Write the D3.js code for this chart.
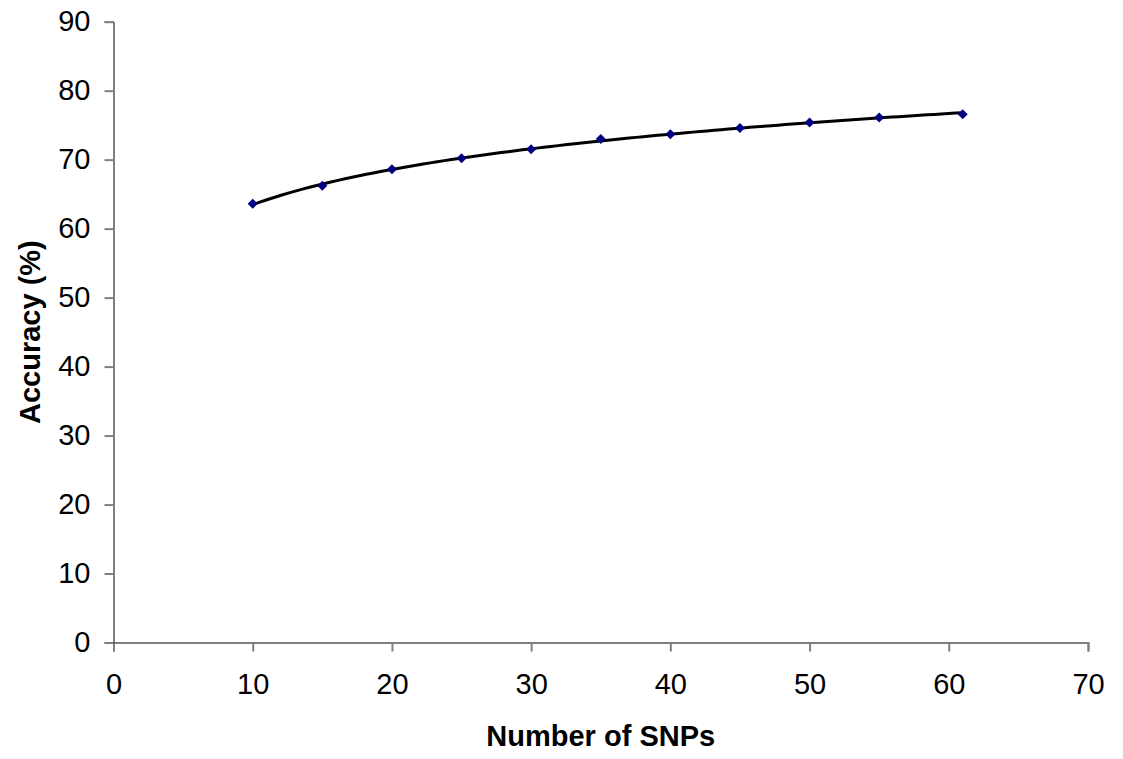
<!DOCTYPE html>
<html>
<head>
<meta charset="utf-8">
<script src="https://cdn.jsdelivr.net/npm/d3@7"></script>
<style>
  html, body { margin: 0; padding: 0; background: #fff; }
  svg { display: block; font-family: "Liberation Sans", Arial, sans-serif; }
</style>
</head>
<body>
<svg id="chart" width="1123" height="759"></svg>
<script>
// Data
const snpCounts = [10, 15, 20, 25, 30, 35, 40, 45, 50, 55, 61];
const accuracy  = [63.6, 66.2, 68.6, 70.2, 71.5, 73.0, 73.7, 74.6, 75.4, 76.1, 76.6];
const xTicks = [0, 10, 20, 30, 40, 50, 60, 70];
const yTicks = [0, 10, 20, 30, 40, 50, 60, 70, 80, 90];
const xTitle = "Number of SNPs";
const yTitle = "Accuracy (%)";

(function () {
const svg = d3.select("#chart");
const mLeft = 113.5, mRight = 1088, mTop = 21.7, mBottom = 642.5;

const x = d3.scaleLinear().domain([0, 70]).range([mLeft, mRight]);
const y = d3.scaleLinear().domain([0, 90]).range([mBottom, mTop]);

// Logarithmic trend line (least squares fit of y = a ln x + b)
const lx = snpCounts.map(Math.log);
const n = lx.length;
const mx = d3.mean(lx), my = d3.mean(accuracy);
let sxy = 0, sxx = 0;
for (let i = 0; i < n; i++) { sxy += (lx[i]-mx)*(accuracy[i]-my); sxx += (lx[i]-mx)**2; }
const a = sxy / sxx, b = my - a * mx;
const trendX = d3.range(0, 101).map(i => snpCounts[0] + (snpCounts[n-1]-snpCounts[0]) * i / 100);

const fontSize = 29;

// Y axis
const yAxis = svg.append("g").attr("transform", `translate(${mLeft},0)`)
  .call(d3.axisLeft(y).tickValues(yTicks).tickSize(9).tickPadding(14).tickFormat(d3.format("d")));
yAxis.select(".domain").attr("stroke", "#000").attr("stroke-width", 1);
yAxis.selectAll(".tick line").attr("stroke", "#808080").attr("stroke-width", 2);
yAxis.selectAll(".tick text").attr("font-size", fontSize).attr("fill", "#000")
  .attr("font-family", "Liberation Sans, Arial, sans-serif");

// X axis
const xAxis = svg.append("g").attr("transform", `translate(0,${mBottom})`)
  .call(d3.axisBottom(x).tickValues(xTicks).tickSize(9).tickPadding(22).tickFormat(d3.format("d")));
xAxis.select(".domain").attr("stroke", "#808080").attr("stroke-width", 2);
xAxis.selectAll(".tick line").attr("stroke", "#808080").attr("stroke-width", 2);
xAxis.selectAll(".tick text").attr("font-size", fontSize).attr("fill", "#000")
  .attr("font-family", "Liberation Sans, Arial, sans-serif");
yAxis.raise();

// Trend line
svg.append("path")
  .datum(trendX)
  .attr("fill", "none")
  .attr("stroke", "#000")
  .attr("stroke-width", 3)
  .attr("d", d3.line().x(d => x(d)).y(d => y(a * Math.log(d) + b)));

// Markers (diamonds)
svg.append("g").selectAll("path")
  .data(snpCounts.map((s, i) => ({ s, v: accuracy[i] })))
  .join("path")
  .attr("transform", d => `translate(${x(d.s)},${y(d.v)}) rotate(45)`)
  .attr("d", d3.symbol(d3.symbolSquare, 50)())
  .attr("fill", "#000080");

// Axis titles
svg.append("text")
  .attr("x", (mLeft + mRight) / 2).attr("y", 746)
  .attr("text-anchor", "middle")
  .attr("font-size", fontSize).attr("font-weight", "bold")
  .text(xTitle);

svg.append("text")
  .attr("transform", `translate(40,${(mTop + mBottom) / 2}) rotate(-90)`)
  .attr("text-anchor", "middle")
  .attr("font-size", fontSize).attr("font-weight", "bold")
  .text(yTitle);
})();
</script>
</body>
</html>
